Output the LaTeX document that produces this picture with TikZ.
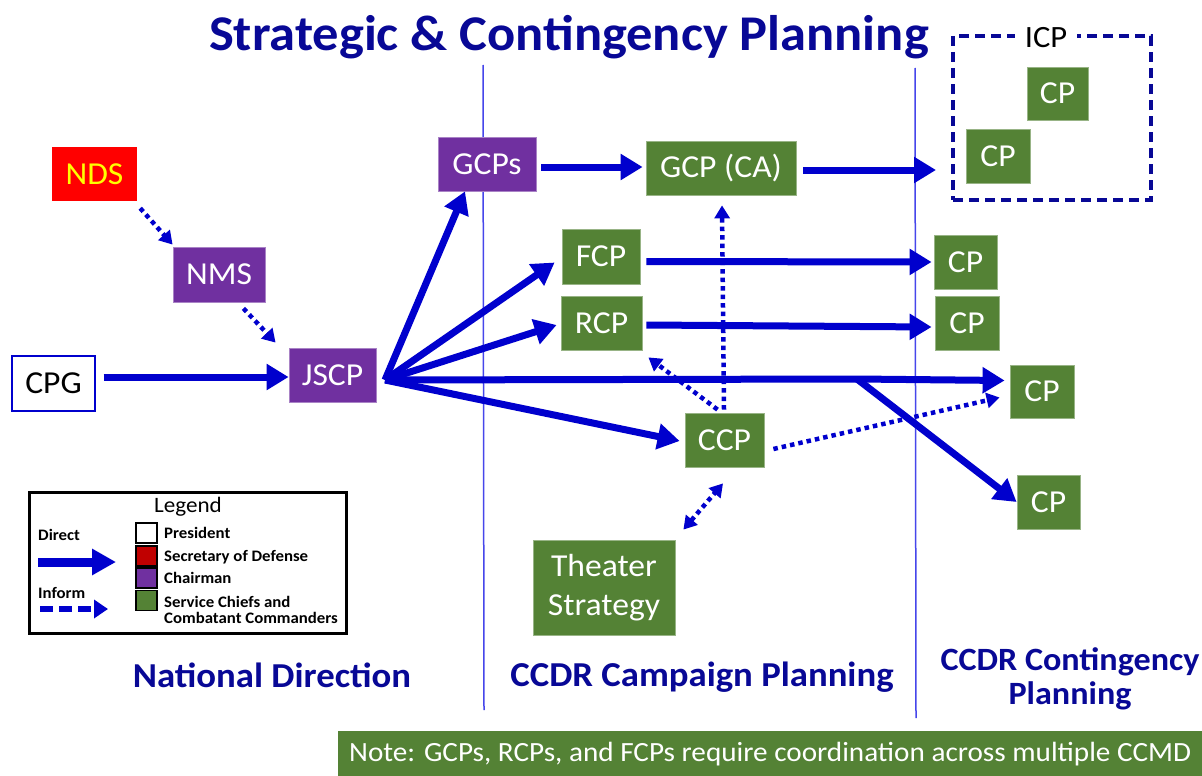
\documentclass[tikz,border=0pt]{standalone}
\usepackage{fontspec}
\setmainfont[FakeStretch=1.05]{Carlito}
\usetikzlibrary{arrows.meta}
\definecolor{cblue}{RGB}{0,0,205}
\definecolor{cnavy}{RGB}{8,8,150}
\definecolor{cline}{RGB}{70,70,235}
\definecolor{cpurple}{RGB}{112,48,160}
\definecolor{cgreen}{RGB}{84,130,53}
\definecolor{cred}{RGB}{255,0,0}
\definecolor{cdred}{RGB}{192,0,0}
\definecolor{cyell}{RGB}{255,255,0}
\begin{document}
\begin{tikzpicture}[x=1pt,y=-1pt,
  box/.style={inner sep=0pt, align=center, font=\fontsize{32}{39}\selectfont},
  sz/.style 2 args={minimum width=#1, minimum height=#2},
  purp/.style={box, fill=cpurple, draw=cpurple!60!white, line width=0.8pt, text=white},
  grn/.style={box, fill=cgreen, draw=cgreen!60!white, line width=0.8pt, text=white},
  direct/.style={draw=cblue, line width=7pt, -{Triangle[length=22pt,width=25pt]}},
  inform/.style={draw=cblue, line width=4.5pt, dash pattern=on 4.5pt off 4pt, -{Triangle[length=13pt,width=15pt]}},
  informboth/.style={inform, {Triangle[length=13pt,width=15pt]}-{Triangle[length=13pt,width=15pt]}},
  section/.style={font=\fontsize{35}{40}\bfseries\selectfont, text=cnavy, align=center},
  vline/.style={draw=cline, line width=1.5pt},
  swatch/.style={draw=black, line width=1.5pt, minimum width=21pt, minimum height=20pt, inner sep=0pt},
  leglab/.style={anchor=west, inner sep=0pt, font=\fontsize{16}{18}\bfseries\selectfont}
]
\useasboundingbox (0,0) rectangle (1202,776);
\fill[white] (0,0) rectangle (1202,776);

% title
\node[font=\fontsize{50}{56}\bfseries\selectfont, text=cnavy] (title) at (569,37) {Strategic \& Contingency Planning};

% separators
\draw[vline] (483,65) -- (484,710);
\draw[vline] (915,68) -- (916,718);

% nodes
\node[box, fill=cred, text=cyell, sz={85}{54}] (NDS) at (94.5,174) {NDS};
\node[purp, sz={92}{55}] (NMS) at (219,274.5) {NMS};
\node[box, draw=cblue, line width=1.2pt, fill=white, text=black, sz={83}{55}] (CPG) at (53.5,383.5) {CPG};
\node[purp, sz={87}{54}] (JSCP) at (332.5,375) {JSCP};
\node[purp, sz={98}{54}] (GCPs) at (487,164) {GCPs};
\node[grn, sz={150}{54}] (GCP) at (721,168) {GCP (CA)};
\node[grn, sz={78}{55}] (FCP) at (601,256.5) {FCP};
\node[grn, sz={81}{54}] (RCP) at (601.5,323) {RCP};
\node[grn, sz={79}{54}] (CCP) at (724.5,440) {CCP};
\node[grn, sz={142}{95}, font=\fontsize{32}{39}\selectfont] (TS) at (604,587.5) {Theater\\Strategy};
\node[grn, sz={63}{54}] (CPa) at (965.5,262) {CP};
\node[grn, sz={64}{54}] (CPb) at (967,323) {CP};
\node[grn, sz={64}{53}] (CPc) at (1042,391.5) {CP};
\node[grn, sz={63}{54}] (CPd) at (1048.5,502) {CP};

% ICP group
\node[draw=cnavy, line width=4pt, dash pattern=on 10pt off 6pt, minimum width=198pt, minimum height=164pt, inner sep=0pt] (ICP) at (1052,118) {};
\node[fill=white, inner xsep=10pt, inner ysep=0pt, text=black, font=\fontsize{31}{39}\selectfont] (ICPlab) at (1046,38) {ICP};
\node[grn, sz={61}{53}] (CPe) at (1057.5,93.5) {CP};
\node[grn, sz={64}{54}] (CPf) at (998,156) {CP};

% connectors
\coordinate (fan) at (385,380);
\coordinate (split) at (857,379);
\draw[direct, shorten <=8pt] ([yshift=6.5pt]CPG.east) -- ([yshift=-2pt]JSCP.west);
\draw[direct] (fan) -- ([xshift=-22pt]GCPs.south);
\draw[direct] (fan) -- ([shift={(-7,6)}]FCP.west);
\draw[direct] (fan) -- ([shift={(-4,2)}]RCP.west);
\draw[direct] (fan) -- ([shift={(-5,1)}]CCP.west);
\draw[direct] (fan) -- (split) -- ([shift={(-5,-11)}]CPc.west);
\draw[direct] (split) -- (CPd.west);
\draw[direct, shorten <=5pt] ([yshift=-3pt]GCPs.east) -- ([shift={(-3,-1)}]GCP.west);
\draw[direct, shorten <=7pt, shorten >=15pt] ([yshift=-2pt]GCP.east) -- ([yshift=-2pt]GCP.east -| ICP.west);
\draw[direct] ([shift={(6,5)}]FCP.east) -- ([xshift=-2pt]CPa.west);
\draw[direct] ([shift={(4,2)}]RCP.east) -- ([shift={(-3,4)}]CPb.west);

\draw[inform] ([shift={(3,7)}]NDS.south east) -- ([yshift=2pt]NMS.north west);
\draw[inform] ([shift={(-22,6)}]NMS.south east) -- ([shift={(-13,-5)}]JSCP.north west);
\draw[inform] ([shift={(-0.5,-3)}]CCP.north) -- ([shift={(1,10)}]GCP.south);
\draw[inform] ([shift={(-7,-3)}]CCP.north) -- ([shift={(6,7)}]RCP.south east);
\draw[inform] ([shift={(9,9)}]CCP.east) -- ([shift={(-10,6)}]CPc.west);
\draw[informboth] ([shift={(8,-10)}]TS.north east) -- ([shift={(-1.5,16)}]CCP.south);

% legend
\node[draw=black, line width=3pt, minimum width=317pt, minimum height=141pt, inner sep=0pt] (legend) at (187.5,562.5) {};
\node[font=\fontsize{22}{24}\selectfont, inner sep=0pt] (legtitle) at (188,507) {Legend};
\node[leglab] (ldirect) at (38,535) {Direct};
\node[leglab] (linform) at (38,593) {Inform};
\coordinate (da) at (38,562);
\coordinate (db) at (116,562);
\coordinate (ia) at (40,609);
\coordinate (ib) at (108,609);
\draw[draw=cblue, line width=9pt, -{Triangle[length=24pt,width=25pt]}] (da) -- (db);
\draw[draw=cblue, line width=5.5pt, dash pattern=on 13pt off 6pt, -{Triangle[length=14pt,width=18pt]}] (ia) -- (ib);
\node[swatch, fill=white] (sw1) at (146.5,533) {};
\node[swatch, fill=cdred] (sw2) at (146.5,556) {};
\node[swatch, fill=cpurple] (sw3) at (146.5,578) {};
\node[swatch, fill=cgreen] (sw4) at (146.5,600.5) {};
\node[leglab] (l1) at (164,533) {President};
\node[leglab] (l2) at (164,557) {Secretary of Defense};
\node[leglab] (l3) at (164,578) {Chairman};
\node[leglab, align=left] (l4) at (164,610) {Service Chiefs and\\[-2pt]Combatant Commanders};

% section labels
\node[section] (s1) at (272,675) {National Direction};
\node[section] (s2) at (702,677) {CCDR Campaign Planning};
\node[section, font=\fontsize{32.5}{34}\bfseries\selectfont] (s3) at (1070,679) {CCDR Contingency\\Planning};

% note bar
\fill[cgreen] (338,731) rectangle (1202,776);
\node[anchor=west, inner sep=0pt, text=white, font=\fontsize{27.8}{30}\selectfont] (note) at (349,754) {Note: GCPs, RCPs, and FCPs require coordination across multiple CCMD};
\end{tikzpicture}
\end{document}
